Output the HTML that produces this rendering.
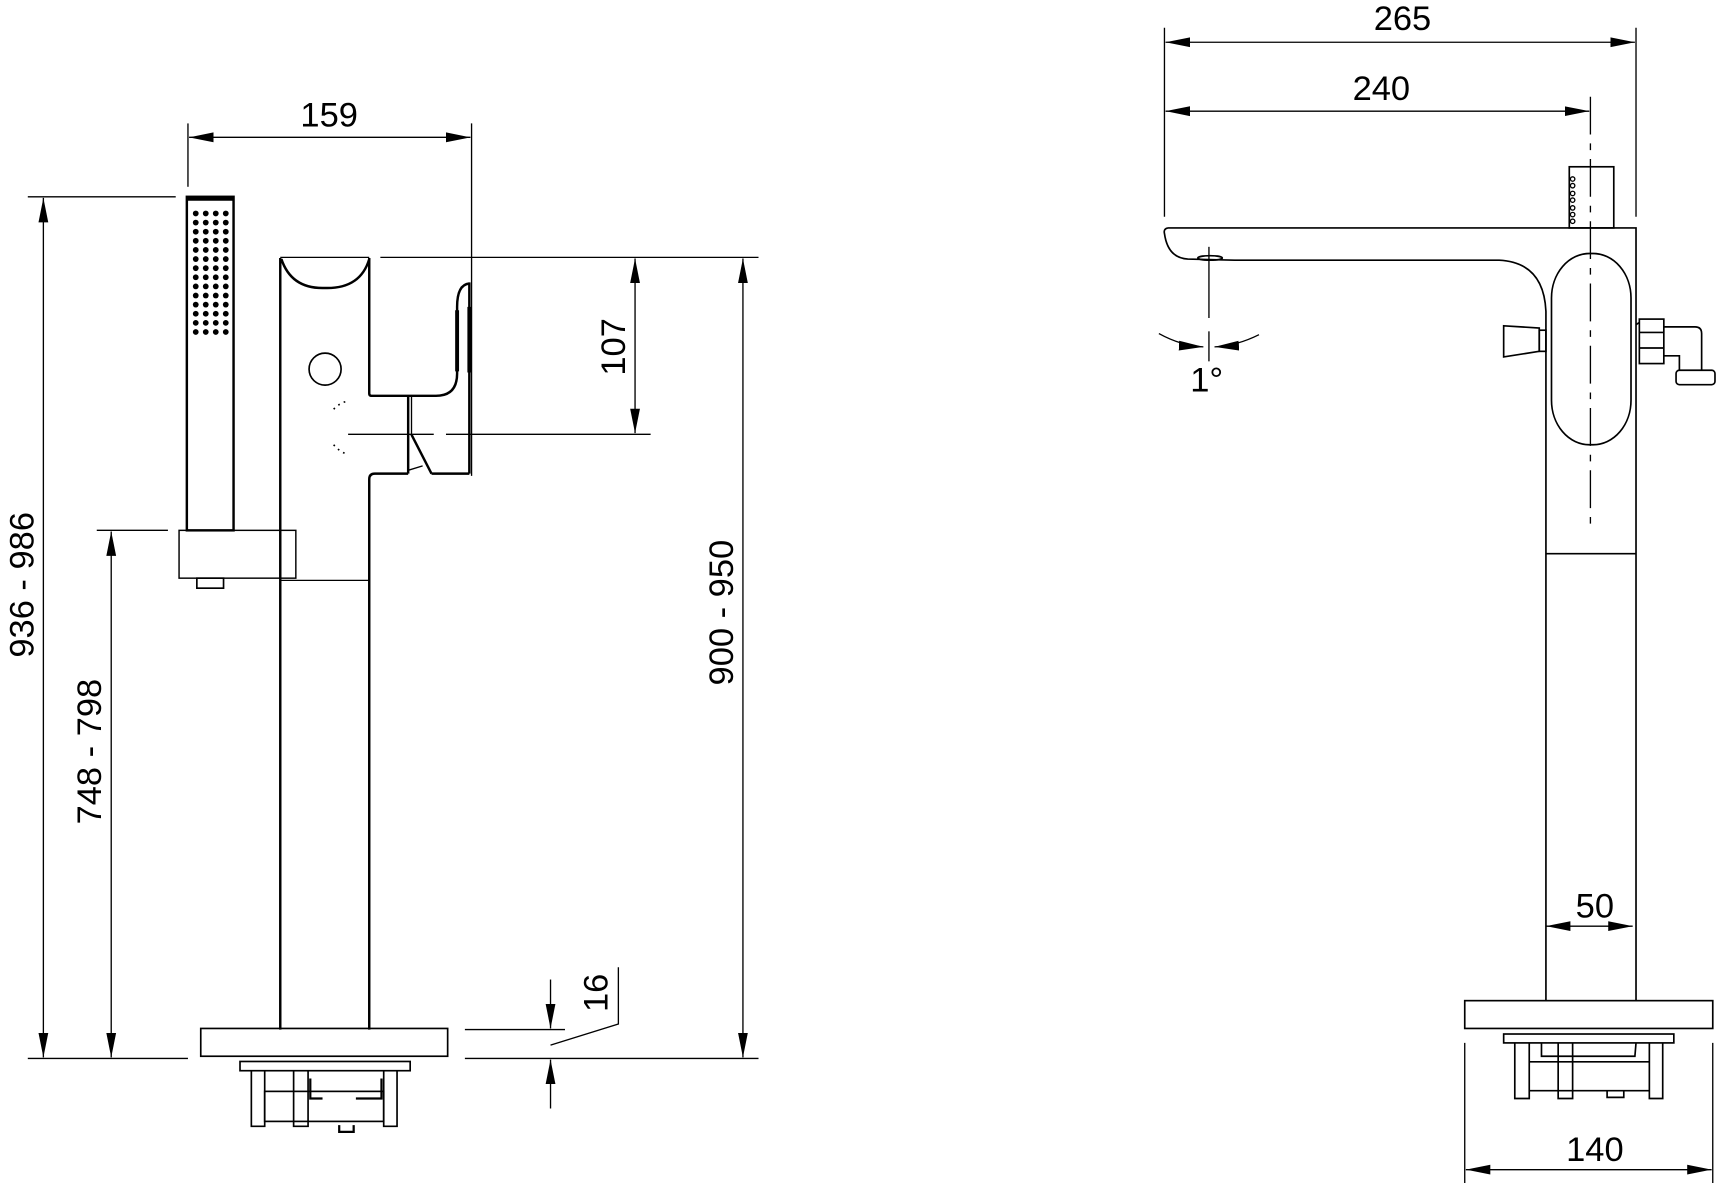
<!DOCTYPE html>
<html><head><meta charset="utf-8"><style>
html,body{margin:0;padding:0;background:#fff;}
svg{display:block;}
text{font-family:"Liberation Sans",sans-serif;font-size:31px;fill:#000;}
</style></head><body>
<svg width="1735" height="1183" viewBox="0 0 1560 1064" preserveAspectRatio="none" xmlns="http://www.w3.org/2000/svg">
<defs>
<marker id="a" markerUnits="userSpaceOnUse" markerWidth="22" markerHeight="10" refX="20" refY="4" orient="auto-start-reverse" viewBox="0 0 20 8"><path d="M0,0 L20,4 L0,8 Z" fill="#000"/></marker>
</defs>
<g fill="none" stroke="#000" stroke-width="1.2">
<!-- ===== LEFT VIEW DIMENSIONS ===== -->
<line x1="169" y1="111" x2="169" y2="168"/>
<line x1="424" y1="111" x2="424" y2="428"/>
<line x1="170" y1="123.5" x2="423" y2="123.5" marker-start="url(#a)" marker-end="url(#a)"/>
<line x1="25" y1="177" x2="158" y2="177"/>
<line x1="39" y1="178" x2="39" y2="951" marker-start="url(#a)" marker-end="url(#a)"/>
<line x1="87" y1="477" x2="151" y2="477"/>
<line x1="100" y1="478" x2="100" y2="951" marker-start="url(#a)" marker-end="url(#a)"/>
<line x1="25" y1="952" x2="169" y2="952"/>
<line x1="418" y1="952" x2="682" y2="952"/>
<line x1="342" y1="231.5" x2="682" y2="231.5"/>
<line x1="313" y1="390.6" x2="390" y2="390.6"/>
<line x1="401" y1="390.6" x2="585" y2="390.6"/>
<line x1="571" y1="232.5" x2="571" y2="389.6" marker-start="url(#a)" marker-end="url(#a)"/>
<line x1="668" y1="232.5" x2="668" y2="951" marker-start="url(#a)" marker-end="url(#a)"/>
<line x1="418" y1="926" x2="508" y2="926"/>
<line x1="495" y1="881" x2="495" y2="925" marker-end="url(#a)"/>
<line x1="495" y1="997" x2="495" y2="953" marker-end="url(#a)"/>
<polyline points="495,940 556,921 556,870"/>
<!-- ===== LEFT VIEW PART ===== -->
<g stroke-width="2.2">
<rect x="168" y="177" width="42" height="300"/>
<line x1="168" y1="179" x2="210" y2="179" stroke-width="3"/>
<rect x="161" y="477" width="105" height="43" stroke-width="1.3"/>
<path d="M252,232 V926 M332,232 V354 Q332,356 334,356 H392 Q411,356 411,336 V276 Q411,256 422,255 M422,254 V426 M332,926 V431 Q332,426 337,426 H367 M388,426 H422"/>
<line x1="422" y1="276" x2="422" y2="335" stroke-width="3.5"/>
<line x1="411" y1="279" x2="411" y2="334" stroke-width="3.5"/>
<path d="M253,233 Q262,260 292,259 Q324,260 332,233"/>
<line x1="370" y1="391" x2="388" y2="426"/>
</g>
<line x1="367" y1="356" x2="367" y2="426" stroke-width="2.2"/>
<line x1="370" y1="356" x2="370" y2="391"/>
<line x1="367" y1="423" x2="380" y2="419"/>
<line x1="252" y1="231.5" x2="332" y2="231.5"/>
<circle cx="292.3" cy="332" r="14.4" stroke-width="1.5"/>
<line x1="253" y1="522" x2="332" y2="522"/>
<rect x="177" y="520" width="24" height="9" stroke-width="1.5"/>
<path d="M300,368 Q306,362 312,361 M300,400 Q305,406 311,408" stroke-dasharray="1.5,4" stroke-width="1.5"/>
<!-- base -->
<rect x="180.5" y="925" width="222" height="25" stroke-width="1.5"/>
<rect x="215.8" y="954.7" width="153" height="8.3" stroke-width="1.5"/>
<path d="M226,963 V1013 H238 V963 M264,963 V1013 H277 V963 M345,963 V1013 H357 V963" stroke-width="1.5"/>
<rect x="238" y="981.6" width="107" height="27" stroke-width="1.5"/>
<path d="M279,970 V988 H290 M343,970 V988 H320 M305,1012 V1018 H318 V1012" stroke-width="2"/>
<!-- ===== RIGHT VIEW DIMENSIONS ===== -->
<line x1="1047" y1="25" x2="1047" y2="195"/>
<line x1="1471" y1="25" x2="1471" y2="195"/>
<line x1="1048" y1="38" x2="1470" y2="38" marker-start="url(#a)" marker-end="url(#a)"/>
<line x1="1048" y1="100" x2="1429" y2="100" marker-start="url(#a)" marker-end="url(#a)"/>
<line x1="1430" y1="87" x2="1430" y2="471" stroke-dasharray="34,8,6,8"/>
<line x1="1390" y1="833" x2="1468" y2="833" marker-start="url(#a)" marker-end="url(#a)"/>
<line x1="1317" y1="938" x2="1317" y2="1064"/>
<line x1="1540" y1="938" x2="1540" y2="1064"/>
<line x1="1318" y1="1052" x2="1539" y2="1052" marker-start="url(#a)" marker-end="url(#a)"/>
<line x1="1087" y1="222" x2="1087" y2="286"/>
<line x1="1087" y1="298" x2="1087" y2="325"/>
<path d="M1042,300 Q1062,311 1082,312" marker-end="url(#a)"/>
<path d="M1132,301 Q1112,311 1092,312" marker-end="url(#a)"/>
<!-- ===== RIGHT VIEW PART ===== -->
<g stroke-width="1.5">
<path d="M1050,205 H1471 V900 M1050,205 Q1046,206 1047,210 Q1050,232 1068,233 L1110,234 H1348 Q1388,236 1390,280 V900"/>
<line x1="1390" y1="498" x2="1471" y2="498"/>
<ellipse cx="1088" cy="232" rx="11" ry="2"/>
<rect x="1395" y="228" width="71.5" height="172" rx="34" ry="40"/>
<polygon points="1352,293 1384,295 1384,316 1352,321"/>
<rect x="1384" y="297" width="6" height="19"/>
<rect x="1474" y="287" width="22" height="40"/>
<line x1="1474" y1="299" x2="1496" y2="299"/><line x1="1474" y1="313" x2="1496" y2="313"/>
<line x1="1471" y1="292" x2="1474" y2="290"/>
<path d="M1496,294 H1524 Q1530,294 1530,300 V333 M1496,320 H1510 V333"/>
<rect x="1507" y="333" width="35" height="13" rx="3"/>
<rect x="1411" y="150" width="40" height="55"/>
<rect x="1317" y="900" width="223" height="25"/>
<rect x="1352" y="930" width="153" height="8"/>
<path d="M1362,938 V988 H1375 V938 M1401,938 V988 H1414 V938 M1483,938 V988 H1495 V938 M1375,955 H1483 M1375,981 H1483 M1445,981 V987 H1460 V981 M1386,938 V950 H1470 L1471,938"/>
</g>
<g stroke-width="1.2">
<circle cx="1414" cy="161" r="2"/><circle cx="1414" cy="167" r="2"/><circle cx="1414" cy="174" r="2"/><circle cx="1414" cy="180" r="2"/><circle cx="1414" cy="187" r="2"/><circle cx="1414" cy="193" r="2"/><circle cx="1414" cy="199" r="2"/>
</g>
</g>
<!-- shower dots -->
<g fill="#000">
<g id="row"><circle cx="176" cy="192" r="2.6"/><circle cx="185" cy="192" r="2.6"/><circle cx="194" cy="192" r="2.6"/><circle cx="203" cy="192" r="2.6"/></g>
<use href="#row" y="8.2"/><use href="#row" y="16.4"/><use href="#row" y="24.6"/><use href="#row" y="32.8"/><use href="#row" y="41"/><use href="#row" y="49.2"/><use href="#row" y="57.4"/><use href="#row" y="65.6"/><use href="#row" y="73.8"/><use href="#row" y="82"/><use href="#row" y="90.2"/><use href="#row" y="98.4"/><use href="#row" y="106.6"/>
</g>
<!-- labels -->
<text x="296" y="114" text-anchor="middle">159</text>
<text transform="translate(30,526) rotate(-90)" text-anchor="middle">936 - 986</text>
<text transform="translate(91,676) rotate(-90)" text-anchor="middle">748 - 798</text>
<text transform="translate(562,312) rotate(-90)" text-anchor="middle">107</text>
<text transform="translate(659,551) rotate(-90)" text-anchor="middle">900 - 950</text>
<text transform="translate(546,893) rotate(-90)" text-anchor="middle">16</text>
<text x="1261" y="27" text-anchor="middle">265</text>
<text x="1242" y="90" text-anchor="middle">240</text>
<text x="1085" y="352" text-anchor="middle">1°</text>
<text x="1434" y="825" text-anchor="middle">50</text>
<text x="1434" y="1044" text-anchor="middle">140</text>
</svg>
</body></html>
